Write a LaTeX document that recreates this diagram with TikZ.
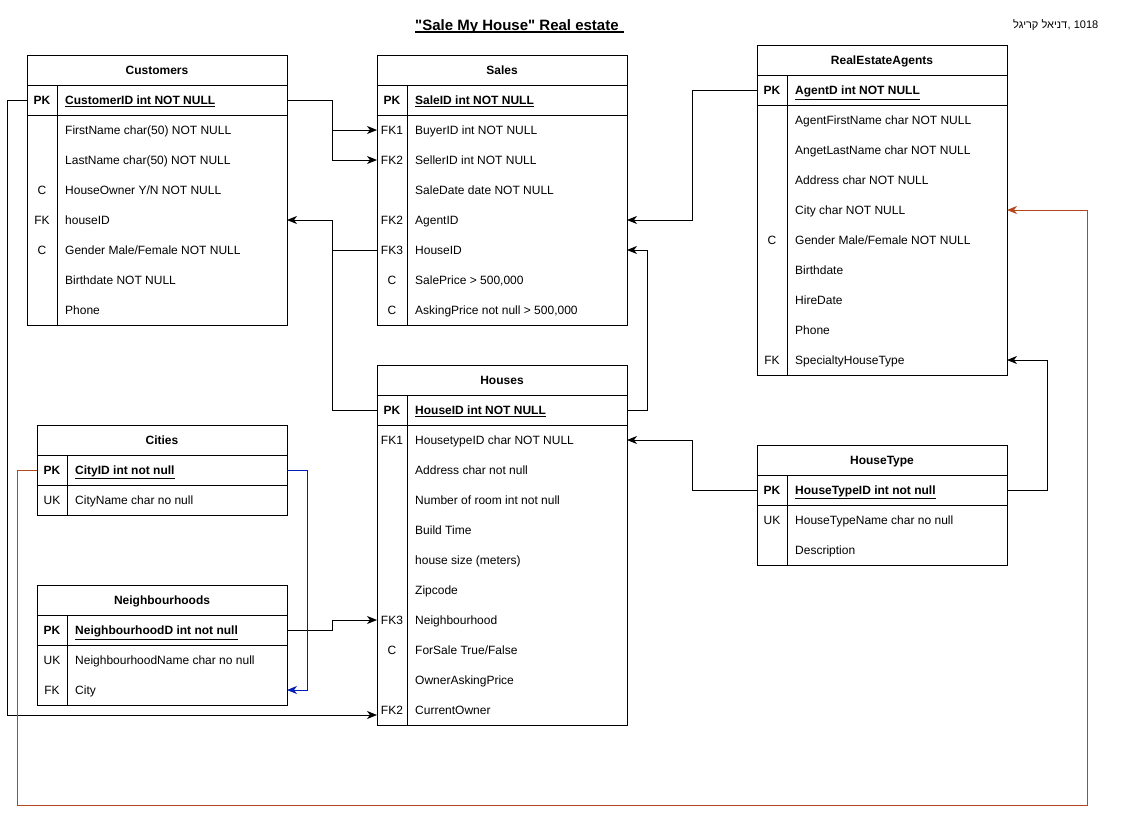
\documentclass[tikz,border=0pt]{standalone}
\usepackage{fontspec}
\setmainfont{Liberation Sans}
\setmonofont{Liberation Sans}
\newfontfamily\hebfont[Script=Hebrew]{Liberation Sans}
\TeXXeTstate=1
\usetikzlibrary{arrows.meta}
\definecolor{linkblue}{HTML}{001DBC}
\definecolor{linkorange}{HTML}{B5481B}
\newcommand\strq{{\ttfamily\char34}}
\tikzset{
  rowbox/.style={inner sep=0pt, outer sep=0pt, minimum height=30pt, anchor=north west},
  hdr/.style={rowbox, font=\bfseries\fontsize{12}{14}\selectfont, text height=8.6pt, text depth=0pt},
  keyt/.style={inner sep=0pt, anchor=center, font=\fontsize{12}{14}\selectfont, text height=8.6pt, text depth=0pt},
  fldt/.style={inner sep=0pt, anchor=west, font=\fontsize{12}{14}\selectfont, text height=8.6pt, text depth=0pt},
  tbl/.style={draw=black, line width=1pt},
  fk/.style={color=black, line width=1pt, -{Stealth[length=10pt,width=8pt,inset=3pt]}},
  plainlink/.style={draw=black, line width=1pt},
}
\newcommand\fld[6]{%
  \node[rowbox, minimum width=#4pt] (#1) at (#2,#3) {};
  \node[keyt] (#1k) at ([xshift=15pt,yshift=-0.5pt]#1.west) {#5};
  \node[fldt] (#1t) at ([xshift=38pt,yshift=-0.5pt]#1.west) {#6};}
\newcommand\frm[3]{%
  \draw[tbl] (#1.north west) rectangle (#3.south east);
  \draw[tbl] (#1.south west) -- (#1.south east);
  \draw[tbl] (#2.south west) -- (#2.south east);
  \draw[tbl] ([xshift=30pt]#2.north west) -- ([xshift=30pt]#3.south west);}
\begin{document}
\begin{tikzpicture}[x=1pt, y=-1pt]
\useasboundingbox[fill=white] (0,0) rectangle (1128,814);

% Title and author
\node[font=\bfseries\fontsize{15}{18}\selectfont, inner sep=0pt, anchor=base west] (title) at (415,30) {\strq Sale My House\strq{} Real estate};
\draw[line width=1.2pt] ([yshift=-2pt]title.base west) -- ([xshift=5pt,yshift=-2pt]title.base east);
\node[font=\hebfont\fontsize{11}{13}\selectfont, inner sep=0pt, anchor=base west] (author) at (1013,28) {\beginR דניאל קריגל\endR};
\node[font=\fontsize{11}{13}\selectfont, inner sep=0pt, anchor=base west] (authornum) at (author.base east) {,\ 1018};

% Customers
\node[hdr, minimum width=260pt] (cust) at (27,55) {Customers};
\fld{custPK}{27}{85}{260}{\bfseries PK}{\bfseries\underline{CustomerID int NOT NULL}}
\fld{custFN}{27}{115}{260}{}{FirstName char(50) NOT NULL}
\fld{custLN}{27}{145}{260}{}{LastName char(50) NOT NULL}
\fld{custHO}{27}{175}{260}{C}{HouseOwner Y/N NOT NULL}
\fld{custHouse}{27}{205}{260}{FK}{houseID}
\fld{custGender}{27}{235}{260}{C}{Gender Male/Female NOT NULL}
\fld{custBirth}{27}{265}{260}{}{Birthdate NOT NULL}
\fld{custPhone}{27}{295}{260}{}{Phone}
\frm{cust}{custPK}{custPhone}

% Sales
\node[hdr, minimum width=250pt] (sal) at (377,55) {Sales};
\fld{salPK}{377}{85}{250}{\bfseries PK}{\bfseries\underline{SaleID int NOT NULL}}
\fld{salBuyer}{377}{115}{250}{FK1}{BuyerID int NOT NULL}
\fld{salSeller}{377}{145}{250}{FK2}{SellerID int NOT NULL}
\fld{salDate}{377}{175}{250}{}{SaleDate date NOT NULL}
\fld{salAgent}{377}{205}{250}{FK2}{AgentID}
\fld{salHouse}{377}{235}{250}{FK3}{HouseID}
\fld{salPrice}{377}{265}{250}{C}{SalePrice > 500,000}
\fld{salAsk}{377}{295}{250}{C}{AskingPrice not null > 500,000}
\frm{sal}{salPK}{salAsk}

% RealEstateAgents
\node[hdr, minimum width=250pt] (agt) at (757,45) {RealEstateAgents};
\fld{agtPK}{757}{75}{250}{\bfseries PK}{\bfseries\underline{AgentD int NOT NULL}}
\fld{agtFN}{757}{105}{250}{}{AgentFirstName char NOT NULL}
\fld{agtLN}{757}{135}{250}{}{AngetLastName char NOT NULL}
\fld{agtAddr}{757}{165}{250}{}{Address char NOT NULL}
\fld{agtCity}{757}{195}{250}{}{City char NOT NULL}
\fld{agtGender}{757}{225}{250}{C}{Gender Male/Female NOT NULL}
\fld{agtBirth}{757}{255}{250}{}{Birthdate}
\fld{agtHire}{757}{285}{250}{}{HireDate}
\fld{agtPhone}{757}{315}{250}{}{Phone}
\fld{agtSpec}{757}{345}{250}{FK}{SpecialtyHouseType}
\frm{agt}{agtPK}{agtSpec}

% Houses
\node[hdr, minimum width=250pt] (hou) at (377,365) {Houses};
\fld{houPK}{377}{395}{250}{\bfseries PK}{\bfseries\underline{HouseID int NOT NULL}}
\fld{houType}{377}{425}{250}{FK1}{HousetypeID char NOT NULL}
\fld{houAddr}{377}{455}{250}{}{Address char not null}
\fld{houRooms}{377}{485}{250}{}{Number of room int not null}
\fld{houBuild}{377}{515}{250}{}{Build Time}
\fld{houSize}{377}{545}{250}{}{house size (meters)}
\fld{houZip}{377}{575}{250}{}{Zipcode}
\fld{houNb}{377}{605}{250}{FK3}{Neighbourhood}
\fld{houSale}{377}{635}{250}{C}{ForSale True/False}
\fld{houAsk}{377}{665}{250}{}{OwnerAskingPrice}
\fld{houCur}{377}{695}{250}{FK2}{CurrentOwner}
\frm{hou}{houPK}{houCur}

% Cities
\node[hdr, minimum width=250pt] (cit) at (37,425) {Cities};
\fld{citPK}{37}{455}{250}{\bfseries PK}{\bfseries\underline{CityID int not null}}
\fld{citName}{37}{485}{250}{UK}{CityName char no null}
\frm{cit}{citPK}{citName}

% Neighbourhoods
\node[hdr, minimum width=250pt] (nb) at (37,585) {Neighbourhoods};
\fld{nbPK}{37}{615}{250}{\bfseries PK}{\bfseries\underline{NeighbourhoodD int not null}}
\fld{nbName}{37}{645}{250}{UK}{NeighbourhoodName char no null}
\fld{nbCity}{37}{675}{250}{FK}{City}
\frm{nb}{nbPK}{nbCity}

% HouseType
\node[hdr, minimum width=250pt] (ht) at (757,445) {HouseType};
\fld{htPK}{757}{475}{250}{\bfseries PK}{\bfseries\underline{HouseTypeID int not null}}
\fld{htName}{757}{505}{250}{UK}{HouseTypeName char no null}
\fld{htDesc}{757}{535}{250}{}{Description}
\frm{ht}{htPK}{htDesc}

% Connectors
\draw[fk] (custPK.east) -- ++(45,0) |- (salBuyer.west);
\draw[fk] (custPK.east) -- ++(45,0) |- (salSeller.west);
\draw[fk] (custPK.west) -- ++(-20,0) |- ([yshift=-5pt]houCur.west);
\draw[fk] (agtPK.west) -- ++(-65,0) |- (salAgent.east);
\draw[fk] (houPK.west) -- ++(-45,0) |- (custHouse.east);
\draw[plainlink] (salHouse.west) -- ++(-45,0);
\draw[fk] (houPK.east) -- ++(20,0) |- (salHouse.east);
\draw[fk] (htPK.west) -- ++(-65,0) |- (houType.east);
\draw[fk] (htPK.east) -- ++(40,0) |- (agtSpec.east);
\draw[fk] (nbPK.east) -- ++(45,0) |- (houNb.west);
\draw[fk, color=linkblue] (citPK.east) -- ++(20,0) |- (nbCity.east);
\draw[fk, color=linkorange] (citPK.west) -- ++(-20,0) -- ++(0,335) -| ([xshift=80pt]agtCity.east) -- (agtCity.east);
\end{tikzpicture}
\end{document}
